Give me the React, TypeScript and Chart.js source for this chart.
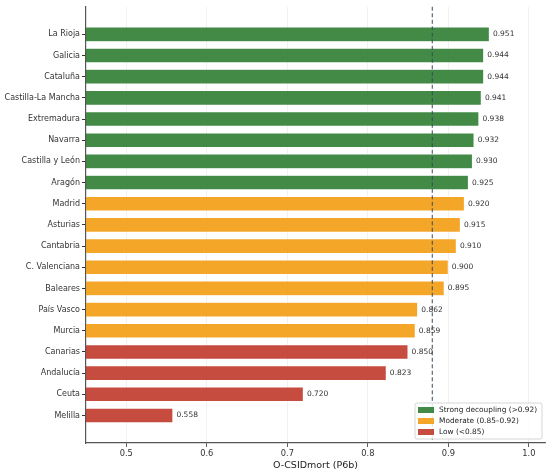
import React, { useEffect, useRef } from "react";
import { Chart, registerables } from "chart.js";

Chart.register(...registerables);

const regions = [
  "La Rioja",
  "Galicia",
  "Cataluña",
  "Castilla-La Mancha",
  "Extremadura",
  "Navarra",
  "Castilla y León",
  "Aragón",
  "Madrid",
  "Asturias",
  "Cantabria",
  "C. Valenciana",
  "Baleares",
  "País Vasco",
  "Murcia",
  "Canarias",
  "Andalucía",
  "Ceuta",
  "Melilla",
];
const scores = [
  0.951, 0.944, 0.944, 0.941, 0.938, 0.932, 0.93, 0.925, 0.92, 0.915, 0.91,
  0.9, 0.895, 0.862, 0.859, 0.85, 0.823, 0.72, 0.558,
];
const tiers = [
  "strong", "strong", "strong", "strong", "strong", "strong", "strong", "strong",
  "moderate", "moderate", "moderate", "moderate", "moderate", "moderate", "moderate",
  "low", "low", "low", "low",
];
const legendLabels = [
  "Strong decoupling (>0.92)",
  "Moderate (0.85–0.92)",
  "Low (<0.85)",
];
const xTicks = [0.5, 0.6, 0.7, 0.8, 0.9, 1.0];
const threshold = 0.88;

const tierColors: Record<string, string> = {
  strong: "rgba(46,125,50,0.9)",
  moderate: "rgba(243,156,18,0.9)",
  low: "rgba(192,57,43,0.9)",
};
const legendColors = [tierColors.strong, tierColors.moderate, tierColors.low];
const FONT = "'DejaVu Sans', sans-serif";

const overlayPlugin = {
  id: "overlay",
  afterDatasetsDraw(chart: any) {
    const { ctx, chartArea, scales } = chart;
    const meta = chart.getDatasetMeta(0);

    // threshold line
    const tx = scales.x.getPixelForValue(threshold);
    ctx.save();
    ctx.strokeStyle = "#34495e";
    ctx.lineWidth = 1;
    ctx.setLineDash([4, 2.5]);
    ctx.beginPath();
    ctx.moveTo(tx, chartArea.top);
    ctx.lineTo(tx, chartArea.bottom);
    ctx.stroke();
    ctx.restore();

    // value labels
    ctx.save();
    ctx.font = `7.5px ${FONT}`;
    ctx.fillStyle = "#333";
    ctx.textBaseline = "middle";
    ctx.textAlign = "left";
    meta.data.forEach((bar: any, i: number) => {
      ctx.fillText(scores[i].toFixed(3), bar.x + 3.5, bar.y);
    });
    ctx.restore();

    // legend
    const bx = 415;
    const by = 403;
    const bw = 127;
    const bh = 36;
    ctx.save();
    ctx.fillStyle = "rgba(255,255,255,0.85)";
    ctx.strokeStyle = "#cccccc";
    ctx.lineWidth = 0.8;
    ctx.beginPath();
    ctx.roundRect(bx, by, bw, bh, 2);
    ctx.fill();
    ctx.stroke();
    ctx.font = `7.4px ${FONT}`;
    ctx.textBaseline = "middle";
    legendLabels.forEach((label, i) => {
      const cy = by + 7 + i * 11;
      ctx.fillStyle = legendColors[i];
      ctx.fillRect(bx + 3, cy - 3, 16, 6);
      ctx.fillStyle = "#222";
      ctx.fillText(label, bx + 24, cy);
    });
    ctx.restore();
  },
};

export default function App(): React.JSX.Element {
  const canvasRef = useRef<HTMLCanvasElement | null>(null);
  const chartRef = useRef<Chart | null>(null);

  useEffect(() => {
    if (!canvasRef.current) return;

    const data = {
      datasets: [
        {
          data: scores.map((v, i) => ({ x: v, y: i })),
          backgroundColor: tiers.map((t) => tierColors[t]),
          borderColor: "rgba(255,255,255,0.6)",
          borderWidth: 0.6,
          barPercentage: 0.7,
          categoryPercentage: 1,
        },
      ],
    };

    chartRef.current = new Chart(canvasRef.current, {
      type: "bar",
      data: data as any,
      options: {
        indexAxis: "y",
        animation: false,
        responsive: true,
        maintainAspectRatio: false,
        layout: { padding: { top: 5, right: 5, left: 0, bottom: 0 } },
        scales: {
          x: {
            type: "linear",
            min: 0.45,
            max: 1.02,
            afterBuildTicks: (scale: any) => {
              scale.ticks = xTicks.map((v) => ({ value: v }));
            },
            afterFit: (scale: any) => {
              scale.height = 31;
            },
            grid: {
              color: "rgba(0,0,0,0.07)",
              lineWidth: 0.8,
              tickColor: "#333",
              tickLength: 4,
            },
            border: { display: true, color: "#555", width: 1.2 },
            ticks: {
              color: "#333",
              padding: 2,
              font: { family: FONT, size: 8.3 },
              callback: (v: any) => Number(v).toFixed(1),
            },
            title: {
              display: true,
              text: "O-CSIDmort (P6b)",
              color: "#222",
              font: { family: FONT, size: 9.5 },
              padding: { top: 0, bottom: 3 },
            },
          },
          y: {
            type: "linear",
            reverse: true,
            offset: false,
            min: -1.3,
            max: regions.length - 1 + 1.3,
            afterBuildTicks: (scale: any) => {
              scale.ticks = regions.map((_, i) => ({ value: i }));
            },
            afterFit: (scale: any) => {
              scale.width = 86;
            },
            grid: {
              offset: false,
              drawOnChartArea: false,
              drawTicks: true,
              tickLength: 4,
              tickColor: "#333",
            },
            border: { display: true, color: "#555", width: 1.2 },
            ticks: {
              color: "#333",
              padding: 2,
              autoSkip: false,
              font: { family: FONT, size: 8 },
              callback: (v: any) => regions[v] ?? "",
            },
          },
        },
        plugins: {
          legend: { display: false },
          tooltip: { enabled: false },
        },
      },
      plugins: [overlayPlugin],
    });

    return () => {
      chartRef.current?.destroy();
    };
  }, []);

  return (
    <div
      style={{
        position: "fixed",
        left: 0,
        top: 0,
        width: 550,
        height: 474,
        background: "#fff",
      }}
    >
      <canvas ref={canvasRef} />
    </div>
  );
}
